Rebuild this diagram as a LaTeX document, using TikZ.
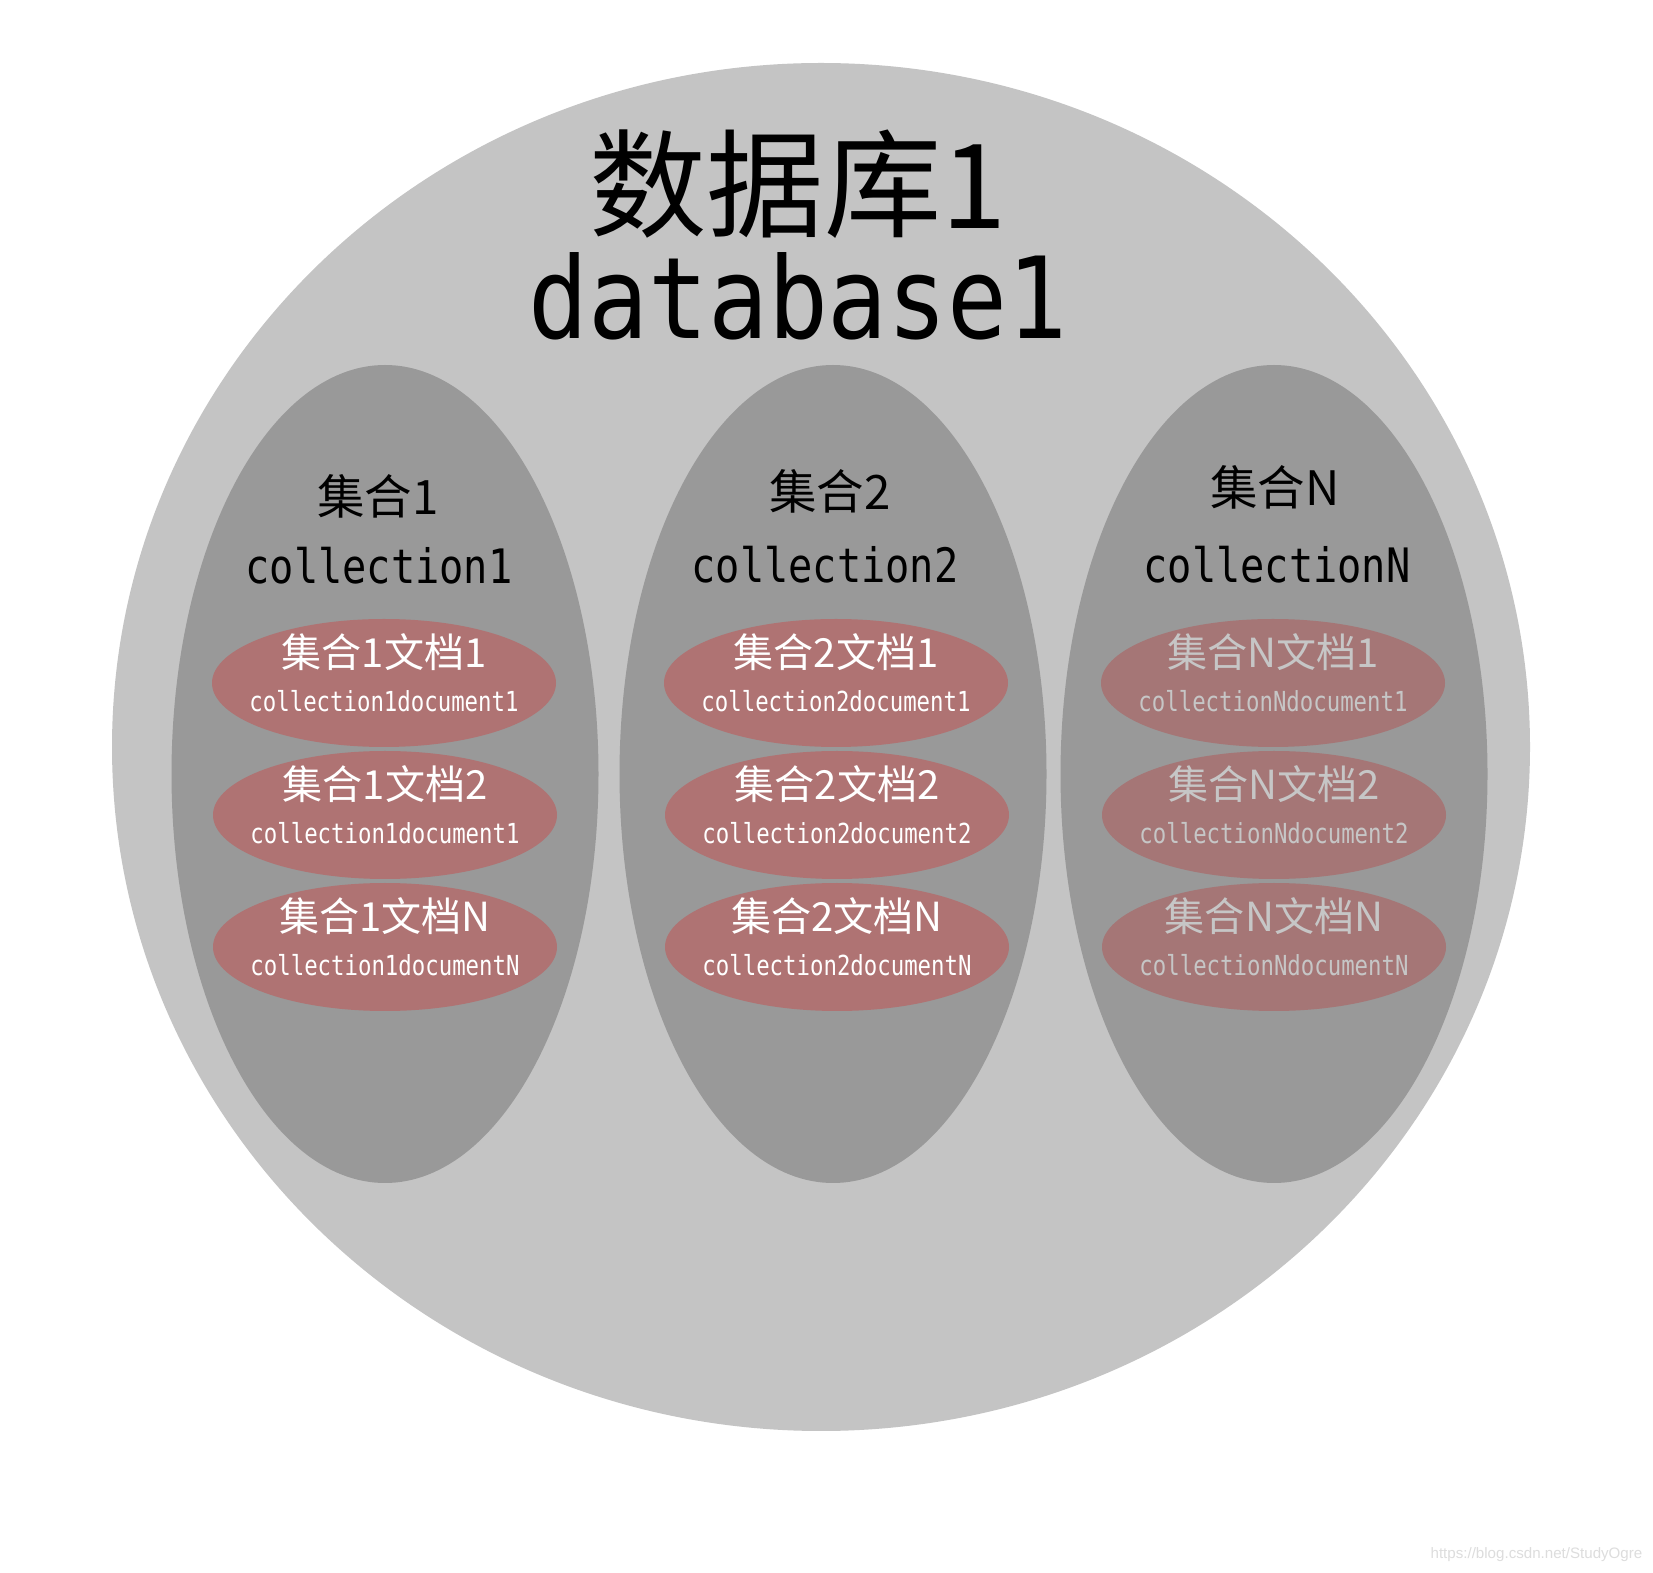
\documentclass[tikz,border=0pt]{standalone}
\usepackage{fontspec}
\usepackage{tikz}
\usetikzlibrary{shapes.geometric}
\setmainfont{Liberation Sans}
\newfontfamily\cjk{Noto Sans CJK SC}
\newfontfamily\mono[FakeStretch=0.88]{DejaVu Sans Mono}
\newfontfamily\monotitle[FakeStretch=0.85]{DejaVu Sans Mono}
\newfontfamily\monodoc[FakeStretch=0.81]{DejaVu Sans Mono}
\definecolor{dbgray}{HTML}{C4C4C4}
\definecolor{colgray}{HTML}{999999}
\definecolor{docred}{HTML}{AF7373}
\definecolor{docredN}{HTML}{A57676}
\definecolor{dimtext}{HTML}{C6C6C6}
\definecolor{credittext}{HTML}{DDDDDD}

\begin{document}
\begin{tikzpicture}[x=0.1mm, y=-0.1mm,
    dbbox/.style ={ellipse, fill=dbgray, inner sep=0pt, minimum width=141.8mm, minimum height=136.8mm},
    collbox/.style ={ellipse, fill=colgray, inner sep=0pt, minimum width=42.7mm, minimum height=81.8mm},
    docbox/.style ={ellipse, fill=docred, inner sep=0pt, minimum width=34.4mm, minimum height=12.8mm},
    dbzh/.style ={inner sep=0pt, font=\cjk\fontsize{33.4pt}{36pt}\selectfont},
    dben/.style ={inner sep=0pt, font=\mono\fontsize{32.2pt}{36pt}\selectfont},
    colzh/.style ={inner sep=0pt, font=\cjk\fontsize{13.5pt}{15pt}\selectfont},
    colen/.style ={inner sep=0pt, font=\monotitle\fontsize{13.5pt}{15pt}\selectfont},
    docup/.style ={inner sep=0pt, text=white, font=\cjk\fontsize{11.4pt}{12pt}\selectfont},
    doclow/.style ={inner sep=0pt, text=white, font=\monodoc\fontsize{7.85pt}{9pt}\selectfont},
    credit/.style ={inner sep=0pt, anchor=east, text=credittext, font=\fontsize{4.3pt}{5pt}\selectfont}]
   \useasboundingbox[fill=white] (0,0) rectangle (1653,1573);
   \node[dbbox] (db) at (821,747) {};
   \node[dbzh] (dbname) at (798,184) {数据库1};
   \node[dben] (dbnameen) at (798,296) {database1};
   % collection 1
   \node[collbox] (c1) at (385,774) {};
   \node[colzh] (c1zh) at (378,496) {集合1};
   \node[colen] (c1en) at (379,566) {collection1};
   \node[docbox] (d11) at (384,683) {};
   \node[docup] (d11a) at ([yshift=3.1mm]d11.center) {集合1文档1};
   \node[doclow] (d11b) at ([yshift=-1.8mm]d11.center) {collection1document1};
   \node[docbox] (d12) at (385,815) {};
   \node[docup] (d12a) at ([yshift=3.1mm]d12.center) {集合1文档2};
   \node[doclow] (d12b) at ([yshift=-1.8mm]d12.center) {collection1document1};
   \node[docbox] (d13) at (385,947) {};
   \node[docup] (d13a) at ([yshift=3.1mm]d13.center) {集合1文档N};
   \node[doclow] (d13b) at ([yshift=-1.8mm]d13.center) {collection1documentN};
   % collection 2
   \node[collbox] (c2) at (833,774) {};
   \node[colzh] (c2zh) at (830,491) {集合2};
   \node[colen] (c2en) at (825,565) {collection2};
   \node[docbox] (d21) at (836,683) {};
   \node[docup] (d21a) at ([yshift=3.1mm]d21.center) {集合2文档1};
   \node[doclow] (d21b) at ([yshift=-1.8mm]d21.center) {collection2document1};
   \node[docbox] (d22) at (837,815) {};
   \node[docup] (d22a) at ([yshift=3.1mm]d22.center) {集合2文档2};
   \node[doclow] (d22b) at ([yshift=-1.8mm]d22.center) {collection2document2};
   \node[docbox] (d23) at (837,947) {};
   \node[docup] (d23a) at ([yshift=3.1mm]d23.center) {集合2文档N};
   \node[doclow] (d23b) at ([yshift=-1.8mm]d23.center) {collection2documentN};
   % collection N
   \node[collbox] (cN) at (1274,774) {};
   \node[colzh] (cNzh) at (1275,487) {集合N};
   \node[colen] (cNen) at (1277,565) {collectionN};
   \node[docbox, fill=docredN] (dN1) at (1273,683) {};
   \node[docup, text=dimtext] (dN1a) at ([yshift=3.1mm]dN1.center) {集合N文档1};
   \node[doclow, text=dimtext] (dN1b) at ([yshift=-1.8mm]dN1.center) {collectionNdocument1};
   \node[docbox, fill=docredN] (dN2) at (1274,815) {};
   \node[docup, text=dimtext] (dN2a) at ([yshift=3.1mm]dN2.center) {集合N文档2};
   \node[doclow, text=dimtext] (dN2b) at ([yshift=-1.8mm]dN2.center) {collectionNdocument2};
   \node[docbox, fill=docredN] (dN3) at (1274,947) {};
   \node[docup, text=dimtext] (dN3a) at ([yshift=3.1mm]dN3.center) {集合N文档N};
   \node[doclow, text=dimtext] (dN3b) at ([yshift=-1.8mm]dN3.center) {collectionNdocumentN};
   \node[credit] (src) at (1643,1555) {https://blog.csdn.net/StudyOgre};
\end{tikzpicture}
\end{document}
